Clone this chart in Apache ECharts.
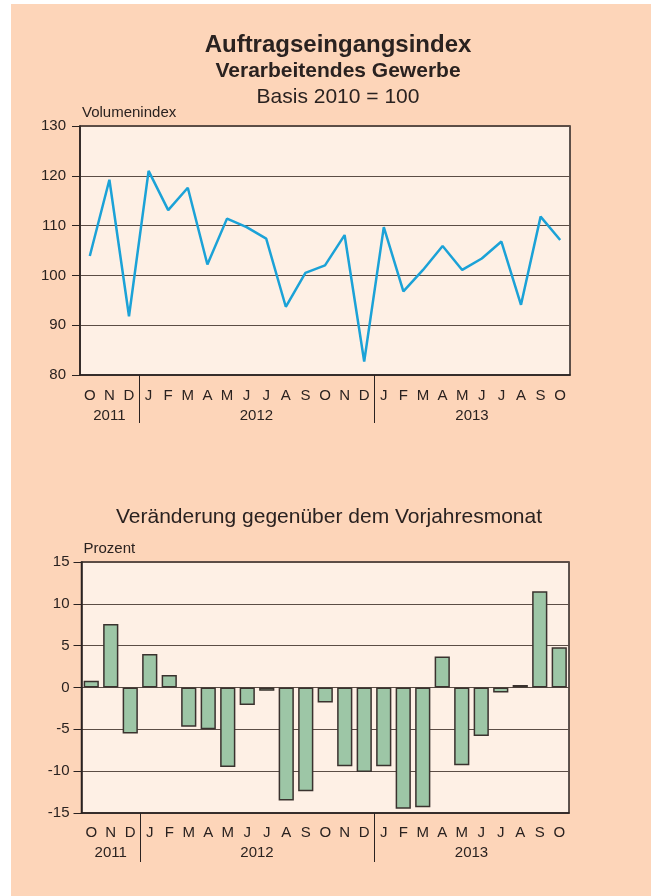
<!DOCTYPE html>
<html>
<head>
<meta charset="utf-8">
<title>Auftragseingangsindex</title>
<script src="https://cdn.jsdelivr.net/npm/echarts@6/dist/echarts.min.js"></script>
<style>
	html, body { margin: 0; padding: 0; background: #ffffff; }
	#chart { position: absolute; left: 11px; top: 4px; width: 640px; height: 892px; }
</style>
</head>
<body>
<div id="chart"></div>
<script>
// Monate Okt 2011 bis Okt 2013
var months = ['O','N','D','J','F','M','A','M','J','J','A','S','O','N','D','J','F','M','A','M','J','J','A','S','O'];
var monthYears = ['2011','2011','2011',
	'2012','2012','2012','2012','2012','2012','2012','2012','2012','2012','2012','2012',
	'2013','2013','2013','2013','2013','2013','2013','2013','2013','2013'];
// Volumenindex, Basis 2010 = 100
var volumeIndex = [103.9, 119.2, 91.8, 121.0, 113.1, 117.6, 102.2, 111.4, 109.7, 107.4, 93.7, 100.5,
	102.0, 108.1, 82.7, 109.7, 96.8, 101.1, 105.9, 101.1, 103.4, 106.8, 94.1, 111.8, 107.1];
// Veränderung gegenüber Vorjahresmonat in Prozent
var changePct = [0.8, 7.6, -5.5, 4.0, 1.5, -4.7, -5.0, -9.5, -2.1, -0.4, -13.5, -12.4,
	-1.8, -9.4, -10.1, -9.4, -14.5, -14.3, 3.7, -9.3, -5.8, -0.6, 0.3, 11.5, 4.8];
var indexTicks = [80, 130, 10];   // min, max, interval
var pctTicks = [-15, 15, 5];

// Jahresgruppen aus den Monaten ableiten
var years = [];
var yearCenters = [];
var yearBreaks = [];
(function () {
	var start = 0;
	for (var i = 1; i <= monthYears.length; i++) {
		if (i == monthYears.length || monthYears[i] != monthYears[start]) {
			years.push(monthYears[start]);
			yearCenters.push((start + i - 1) / 2);
			if (i < monthYears.length) yearBreaks.push(i - 0.5);
			start = i;
		}
	}
})();

var dark = '#2a2220';
var gridLine = '#5b4d45';
var font = 'Liberation Sans, Arial, sans-serif';

function monthAxis(gridIndex, margin) {
	return {
		type: 'category',
		gridIndex: gridIndex,
		data: months,
		boundaryGap: true,
		axisLine: { show: true, onZero: false, lineStyle: { color: dark, width: 1.5 } },
		axisTick: { show: false },
		axisLabel: { interval: 0, margin: margin, color: dark, fontSize: 15, fontFamily: font },
		splitLine: { show: false }
	};
}

function yearAxis(gridIndex, tickLen, margin) {
	return {
		type: 'value',
		gridIndex: gridIndex,
		position: 'bottom',
		min: -0.5,
		max: months.length - 0.5,
		axisLine: { show: false, onZero: false },
		splitLine: { show: false },
		axisTick: { show: true, customValues: yearBreaks, length: tickLen, lineStyle: { color: dark, width: 1 } },
		axisLabel: {
			show: true,
			customValues: yearCenters,
			margin: margin,
			color: dark,
			fontSize: 15,
			fontFamily: font,
			formatter: function (v) {
				for (var k = 0; k < yearCenters.length; k++) {
					if (Math.abs(yearCenters[k] - v) < 0.01) return years[k];
				}
				return '';
			}
		}
	};
}

function valueAxis(gridIndex, ticks, name, margin) {
	return {
		type: 'value',
		gridIndex: gridIndex,
		min: ticks[0],
		max: ticks[1],
		interval: ticks[2],
		name: name,
		nameLocation: 'end',
		nameGap: 6,
		nameTextStyle: { color: dark, fontSize: 15, fontFamily: font, align: 'left', padding: [0, 0, 0, 2] },
		axisLine: { show: true, onZero: false, lineStyle: { color: dark, width: 1.5 } },
		axisTick: { show: true, inside: false, length: 8, lineStyle: { color: dark, width: 1 } },
		axisLabel: { margin: margin, color: dark, fontSize: 15, fontFamily: font },
		splitLine: { show: true, lineStyle: { color: gridLine, width: 1 } }
	};
}

var chart = echarts.init(document.getElementById('chart'));
var option = {
	backgroundColor: '#fdd5b9',
	animation: false,
	graphic: [
		{ type: 'text', x: 327, y: 41, style: { text: 'Auftragseingangsindex', fill: dark, font: 'bold 24px ' + font, textAlign: 'center', textVerticalAlign: 'middle' } },
		{ type: 'text', x: 327, y: 67, style: { text: 'Verarbeitendes Gewerbe', fill: dark, font: 'bold 21px ' + font, textAlign: 'center', textVerticalAlign: 'middle' } },
		{ type: 'text', x: 327, y: 93, style: { text: 'Basis 2010 = 100', fill: dark, font: '21px ' + font, textAlign: 'center', textVerticalAlign: 'middle' } },
		{ type: 'text', x: 318, y: 513, style: { text: 'Veränderung gegenüber dem Vorjahresmonat', fill: dark, font: '21px ' + font, textAlign: 'center', textVerticalAlign: 'middle' } }
	],
	grid: [
		{ left: 69, top: 122, width: 490, height: 249, show: true, backgroundColor: '#fef0e5', borderColor: dark, borderWidth: 1.5 },
		{ left: 70.5, top: 558, width: 487.5, height: 251, show: true, backgroundColor: '#fef0e5', borderColor: dark, borderWidth: 1.5 }
	],
	xAxis: [
		monthAxis(0, 13),
		yearAxis(0, 48, 33),
		monthAxis(1, 12),
		yearAxis(1, 49, 32)
	],
	yAxis: [
		valueAxis(0, indexTicks, 'Volumenindex', 14),
		valueAxis(1, pctTicks, 'Prozent', 12)
	],
	series: [
		{
			name: 'Volumenindex',
			type: 'line',
			xAxisIndex: 0,
			yAxisIndex: 0,
			data: volumeIndex,
			symbol: 'none',
			lineStyle: { color: '#1ba2d7', width: 2.5 }
		},
		{
			name: 'Veränderung',
			type: 'bar',
			xAxisIndex: 2,
			yAxisIndex: 1,
			data: changePct,
			barCategoryGap: '22%',
			itemStyle: { color: '#9dc6a6', borderColor: '#3a322e', borderWidth: 1.5 }
		}
	]
};
chart.setOption(option);
</script>
</body>
</html>
